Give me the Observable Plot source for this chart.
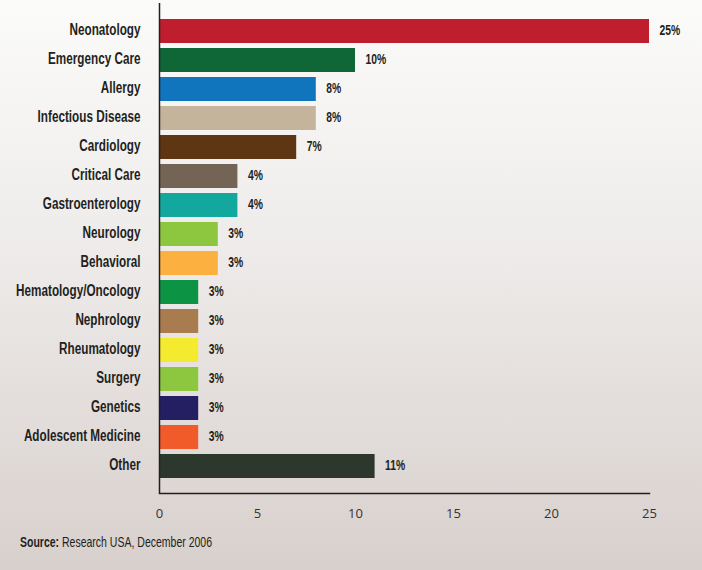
<!DOCTYPE html>
<html>
<head>
<meta charset="utf-8">
<script src="https://cdn.jsdelivr.net/npm/d3@7"></script>
<script src="https://cdn.jsdelivr.net/npm/@observablehq/plot@0.6"></script>
<style>
  html, body { margin: 0; padding: 0; }
  body {
    width: 702px; height: 570px; position: relative; overflow: hidden;
    background: linear-gradient(to bottom, #fbfbfa 0%, #efedec 40%, #d8d0cd 100%);
  }
  #chart { position: absolute; left: 0; top: 0; }
  #caption {
    position: absolute; left: 20px; top: 534px; white-space: nowrap;
    font-family: "Liberation Sans", Arial, sans-serif;
    font-size: 14.5px; color: #231f20; transform-origin: 0 50%;
  }
  #caption b { font-weight: bold; }
</style>
</head>
<body>
<div id="chart"></div>
<div id="caption"><b>Source:</b> Research USA, December 2006</div>
<script>
const categories = ["Neonatology", "Emergency Care", "Allergy", "Infectious Disease", "Cardiology",
  "Critical Care", "Gastroenterology", "Neurology", "Behavioral", "Hematology/Oncology",
  "Nephrology", "Rheumatology", "Surgery", "Genetics", "Adolescent Medicine", "Other"];
const values = [25, 10, 8, 8, 7, 4, 4, 3, 3, 2, 2, 2, 2, 2, 2, 11];
const labels = ["25%", "10%", "8%", "8%", "7%", "4%", "4%", "3%", "3%", "3%", "3%", "3%", "3%", "3%", "3%", "11%"];
const colors = ["#be1e2d", "#0f6637", "#1175be", "#c4b49c", "#5e3613", "#736455", "#13a89e", "#8dc63f",
  "#fbb040", "#0c9444", "#a87c4f", "#f4ea2e", "#8dc63f", "#231f62", "#f15a29", "#2d382d"];
const xTicks = [0, 5, 10, 15, 20, 25];

const data = categories.map((c, i) => ({category: c, value: values[i], label: labels[i], color: colors[i]}));

const sans = `"Liberation Sans", Arial, sans-serif`;

const plot = Plot.plot({
  width: 702,
  height: 530,
  marginLeft: 159,
  marginRight: 53,
  marginTop: 3,
  marginBottom: 37,
  style: {background: "transparent", overflow: "visible"},
  x: {domain: [0, 25], ticks: xTicks},
  y: {domain: categories, paddingInner: 0.174, paddingOuter: 0.515, align: 0.5},
  marks: [
    Plot.barX(data, {x: "value", y: "category", fill: "color"}),
    Plot.text(data, {x: "value", y: "category", text: "label", textAnchor: "start", dx: 10, dy: 3,
      fontFamily: sans, fontWeight: "bold", fontSize: 14, fill: "#231f20"}),
    Plot.frame({anchor: "bottom", stroke: "#231f20", strokeWidth: 1.5}),
    Plot.ruleX([0], {stroke: "#231f20", strokeWidth: 1.5}),
    Plot.axisX({ticks: xTicks, tickSize: 0, tickPadding: 15, fontSize: 13,
      fontFamily: "'Open Sans', sans-serif", fill: "#333", label: null}),
    Plot.axisY({tickSize: 0, tickPadding: 19, dy: 3, fontSize: 17, fontFamily: sans,
      fontWeight: "bold", fill: "#231f20", label: null})
  ]
});
document.getElementById("chart").appendChild(plot);

// condense text horizontally around its anchor (no condensed font installed)
function condense(sel, k) {
  d3.select(plot).selectAll(sel).each(function () {
    const t = d3.select(this);
    const x = t.attr("x"), y = t.attr("y");
    let tr = t.attr("transform") || "";
    if (x != null || y != null) {
      tr = `${tr} translate(${+x || 0},${+y || 0})`;
      t.attr("x", null).attr("y", null);
    }
    t.attr("transform", `${tr} scale(${k},1)`);
  });
}
condense('g[aria-label="y-axis tick label"] text', 0.69);
condense('g[aria-label="text"] text', 0.74);

// condense caption to the reference width
const cap = document.getElementById("caption");
const w = cap.getBoundingClientRect().width;
cap.style.transform = `scaleX(${192 / w})`;
</script>
</body>
</html>
